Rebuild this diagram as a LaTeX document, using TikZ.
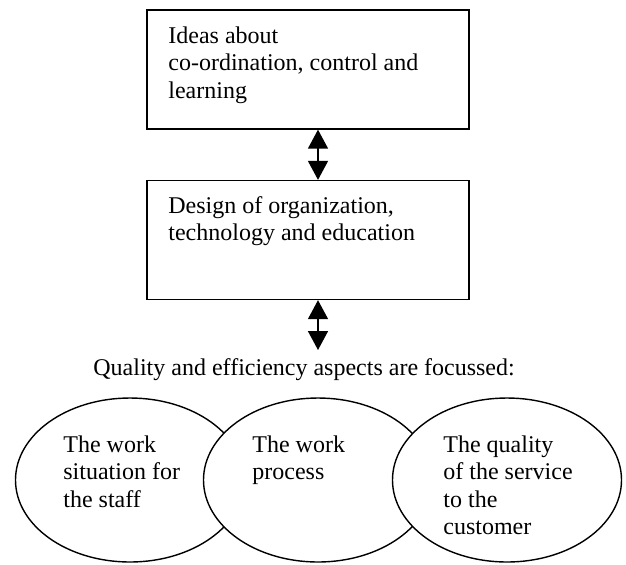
\documentclass[tikz,border=0pt]{standalone}
\usepackage{fontspec}
\setmainfont{Liberation Serif}
\usetikzlibrary{arrows.meta,shapes.geometric}
\begin{document}
\begin{tikzpicture}[x=0.5pt,y=-0.5pt,
  % a multi-line node's base anchor sits on the baseline of its last line
  txt/.style={anchor=base west,inner sep=0pt,align=left,
    font=\fontsize{12pt}{13.8pt}\selectfont},
  framebox/.style={draw,line width=0.65pt,inner sep=0pt,
    minimum width=161pt,minimum height=59.5pt},
  oval/.style={ellipse,draw,fill=white,line width=0.7pt,inner sep=0pt,
    minimum width=114.5pt,minimum height=82pt},
  dblarrow/.style={line width=0.75pt,
    {Triangle[width=10pt,length=9.5pt]}-{Triangle[width=10pt,length=9.5pt]}}]
\useasboundingbox (0,0) rectangle (626,564);

% the two boxes
\node[framebox] (ideas) at (308,69.5) {};
\node[framebox] (design) at (308,240) {};
\node[txt] (ideastext) at (168,98.2)
  {Ideas about\\co-ordination, control and\\learning};
\node[txt] (designtext) at (168,240.6)
  {Design of organization,\\technology and education};

% the three overlapping ovals, drawn left to right
\node[oval] (staff) at (130,480) {};
\node[oval] (process) at (318,480) {};
\node[oval] (customer) at (507,480) {};
\node[txt] (stafftext) at (63,507.2) {The work\\situation for\\the staff};
\node[txt] (processtext) at (252,479.6) {The work\\process};
\node[txt] (customertext) at (443,534.8)
  {The quality\\of the service\\to the\\customer};

\node[txt] (focus) at (93,375) {Quality and efficiency aspects are focussed:};

% connectors
\coordinate (arrowend) at (318,350);
\draw[dblarrow] (ideas.south -| process.center) -- (design.north -| process.center);
\draw[dblarrow] (design.south -| arrowend) -- (arrowend);
\end{tikzpicture}
\end{document}
